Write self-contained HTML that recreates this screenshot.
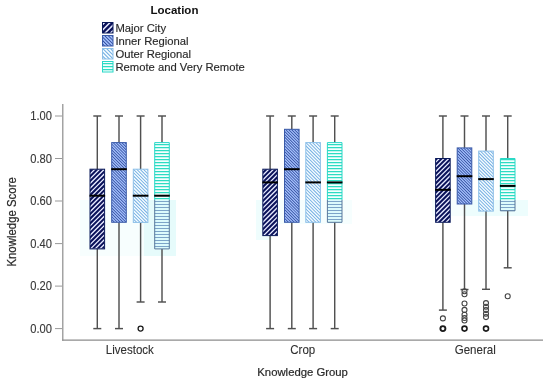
<!DOCTYPE html>
<html><head><meta charset="utf-8"><style>
html,body{margin:0;padding:0;background:#fff;}
svg{display:block;will-change:transform;}
.t{font-family:"Liberation Sans",sans-serif;font-size:11px;fill:#2a2a2a;stroke:#2a2a2a;stroke-width:0.22px;}
.c{font-family:"Liberation Sans",sans-serif;fill:#303030;stroke:#303030;stroke-width:0.1px;}
.k{font-family:"Liberation Sans",sans-serif;fill:#383838;stroke:#383838;stroke-width:0.12px;}
.l{font-family:"Liberation Sans",sans-serif;font-size:11px;fill:#2a2a2a;stroke:#2a2a2a;stroke-width:0.15px;}
.b{font-family:"Liberation Sans",sans-serif;font-size:11.5px;font-weight:bold;fill:#111;}
</style></head><body>
<svg width="550" height="385" viewBox="0 0 550 385">
<defs>
</defs>
<rect width="550" height="385" fill="#fff"/>
<rect x="80" y="200" width="64" height="56" fill="#f7fefe"/>
<rect x="144" y="200" width="32" height="56" fill="#e6fbfb"/>
<rect x="256" y="200" width="96" height="24" fill="#f6fefe"/>
<rect x="256" y="200" width="16" height="40" fill="#effdfd"/>
<rect x="464" y="200" width="64" height="16" fill="#edfdfd"/>
<rect x="432" y="200" width="32" height="16" fill="#f6fefe"/>
<!-- legend -->
<text x="150.5" y="14" class="b">Location</text>
<clipPath id="c16"><rect x="102.50" y="22.50" width="10.50" height="10.50"/></clipPath><g clip-path="url(#c16)"><rect x="102.50" y="22.50" width="10.50" height="10.50" fill="#0b125a"/><path fill="#e6eaff" d="M99.00,21.50L101.17,21.50L88.67,34.00L86.50,34.00ZM104.50,21.50L106.66,21.50L94.16,34.00L92.00,34.00ZM110.00,21.50L112.16,21.50L99.66,34.00L97.50,34.00ZM115.50,21.50L117.66,21.50L105.16,34.00L103.00,34.00ZM121.00,21.50L123.16,21.50L110.66,34.00L108.50,34.00ZM126.50,21.50L128.66,21.50L116.16,34.00L114.00,34.00ZM132.00,21.50L134.16,21.50L121.66,34.00L119.50,34.00Z"/></g><rect x="102.5" y="22.5" width="10.5" height="10.5" fill="none" stroke="#0a1a5a"/>
<clipPath id="c17"><rect x="102.50" y="35.50" width="10.50" height="10.50"/></clipPath><g clip-path="url(#c17)"><rect x="102.50" y="35.50" width="10.50" height="10.50" fill="#203c90"/><path fill="#a2befa" d="M83.22,34.50L85.56,34.50L98.06,47.00L95.72,47.00ZM86.70,34.50L89.04,34.50L101.54,47.00L99.20,47.00ZM90.18,34.50L92.52,34.50L105.02,47.00L102.68,47.00ZM93.66,34.50L96.00,34.50L108.50,47.00L106.16,47.00ZM97.14,34.50L99.48,34.50L111.98,47.00L109.64,47.00ZM100.62,34.50L102.96,34.50L115.46,47.00L113.12,47.00ZM104.10,34.50L106.44,34.50L118.94,47.00L116.60,47.00ZM107.58,34.50L109.92,34.50L122.42,47.00L120.08,47.00ZM111.06,34.50L113.40,34.50L125.90,47.00L123.56,47.00ZM114.54,34.50L116.88,34.50L129.38,47.00L127.04,47.00Z"/></g><rect x="102.5" y="35.5" width="10.5" height="10.5" fill="none" stroke="#3a5aa8"/>
<clipPath id="c18"><rect x="102.50" y="48.50" width="10.50" height="10.50"/></clipPath><g clip-path="url(#c18)"><rect x="102.50" y="48.50" width="10.50" height="10.50" fill="#f6fcff"/><path fill="#72aee2" d="M85.68,47.50L87.17,47.50L99.67,60.00L98.18,60.00ZM89.50,47.50L90.99,47.50L103.49,60.00L102.00,60.00ZM93.32,47.50L94.81,47.50L107.31,60.00L105.82,60.00ZM97.13,47.50L98.63,47.50L111.13,60.00L109.63,60.00ZM100.95,47.50L102.45,47.50L114.95,60.00L113.45,60.00ZM104.77,47.50L106.26,47.50L118.76,60.00L117.27,60.00ZM108.59,47.50L110.08,47.50L122.58,60.00L121.09,60.00ZM112.41,47.50L113.90,47.50L126.40,60.00L124.91,60.00ZM116.22,47.50L117.72,47.50L130.22,60.00L128.72,60.00Z"/></g><rect x="102.5" y="48.5" width="10.5" height="10.5" fill="none" stroke="#8cbfe8"/>
<clipPath id="c19"><rect x="102.50" y="61.50" width="10.50" height="10.50"/></clipPath><g clip-path="url(#c19)"><rect x="102.50" y="61.50" width="10.50" height="10.50" fill="#f4fffe"/><path fill="#2cdcc2" d="M101.50,56.90H114.00V58.15H101.50ZM101.50,59.90H114.00V61.15H101.50ZM101.50,62.90H114.00V64.15H101.50ZM101.50,65.90H114.00V67.15H101.50ZM101.50,68.90H114.00V70.15H101.50ZM101.50,71.90H114.00V73.15H101.50ZM101.50,74.90H114.00V76.15H101.50ZM101.50,77.90H114.00V79.15H101.50Z"/></g><rect x="102.5" y="61.5" width="10.5" height="10.5" fill="none" stroke="#2ad8c8"/>
<text x="115.40" y="31.50" text-anchor="start" class="l" style="font-size:11.25px">Major City</text>
<text x="115.40" y="44.50" text-anchor="start" class="l" style="font-size:11.25px">Inner Regional</text>
<text x="115.40" y="57.50" text-anchor="start" class="l" style="font-size:11.25px">Outer Regional</text>
<text x="115.40" y="70.50" text-anchor="start" class="l" style="font-size:11.25px">Remote and Very Remote</text>
<!-- axes -->
<line x1="62.8" y1="104" x2="62.8" y2="340.7" stroke="#8c8c8c" stroke-width="1.2"/>
<line x1="62.2" y1="340.1" x2="543" y2="340.1" stroke="#8c8c8c" stroke-width="1.2"/>
<line x1="55" y1="328.6" x2="62" y2="328.6" stroke="#999" stroke-width="1"/>
<text x="51.90" y="332.70" text-anchor="end" class="k" style="font-size:12.0px" lengthAdjust="spacingAndGlyphs" textLength="21.72">0.00</text>
<line x1="55" y1="286.1" x2="62" y2="286.1" stroke="#999" stroke-width="1"/>
<text x="51.90" y="290.18" text-anchor="end" class="k" style="font-size:12.0px" lengthAdjust="spacingAndGlyphs" textLength="21.72">0.20</text>
<line x1="55" y1="243.6" x2="62" y2="243.6" stroke="#999" stroke-width="1"/>
<text x="51.90" y="247.66" text-anchor="end" class="k" style="font-size:12.0px" lengthAdjust="spacingAndGlyphs" textLength="21.72">0.40</text>
<line x1="55" y1="201.0" x2="62" y2="201.0" stroke="#999" stroke-width="1"/>
<text x="51.90" y="205.14" text-anchor="end" class="k" style="font-size:12.0px" lengthAdjust="spacingAndGlyphs" textLength="21.72">0.60</text>
<line x1="55" y1="158.5" x2="62" y2="158.5" stroke="#999" stroke-width="1"/>
<text x="51.90" y="162.62" text-anchor="end" class="k" style="font-size:12.0px" lengthAdjust="spacingAndGlyphs" textLength="21.72">0.80</text>
<line x1="55" y1="116.0" x2="62" y2="116.0" stroke="#999" stroke-width="1"/>
<text x="51.90" y="120.10" text-anchor="end" class="k" style="font-size:12.0px" lengthAdjust="spacingAndGlyphs" textLength="21.72">1.00</text>
<text x="129.80" y="354.30" text-anchor="middle" class="c" style="font-size:12.2px" lengthAdjust="spacingAndGlyphs" textLength="48.06">Livestock</text>
<text x="302.80" y="354.30" text-anchor="middle" class="c" style="font-size:12.2px" lengthAdjust="spacingAndGlyphs" textLength="24.99">Crop</text>
<text x="475.20" y="354.30" text-anchor="middle" class="c" style="font-size:12.2px" lengthAdjust="spacingAndGlyphs" textLength="41.01">General</text>
<text x="302.60" y="376.40" text-anchor="middle" class="t" style="font-size:11.6px" lengthAdjust="spacingAndGlyphs" textLength="90.53">Knowledge Group</text>
<g transform="translate(15.7,221.9) rotate(-90)"><text x="0.00" y="0.00" text-anchor="middle" class="t" style="font-size:12.0px" lengthAdjust="spacingAndGlyphs" textLength="89.35">Knowledge Score</text></g>
<line x1="97.3" y1="116.0" x2="97.3" y2="169.2" stroke="#505050" stroke-width="1.45"/>
<line x1="97.3" y1="248.9" x2="97.3" y2="328.6" stroke="#505050" stroke-width="1.45"/>
<line x1="93.3" y1="116.0" x2="101.3" y2="116.0" stroke="#505050" stroke-width="1.45"/>
<line x1="93.3" y1="328.6" x2="101.3" y2="328.6" stroke="#505050" stroke-width="1.45"/>
<clipPath id="c1"><rect x="90.00" y="169.15" width="14.60" height="79.72"/></clipPath><g clip-path="url(#c1)"><rect x="90.00" y="169.15" width="14.60" height="79.72" fill="#0b125a"/><path fill="#e6eaff" d="M85.65,168.15L87.50,168.15L5.78,249.88L3.93,249.88ZM90.35,168.15L92.20,168.15L10.48,249.88L8.62,249.88ZM95.05,168.15L96.90,168.15L15.18,249.88L13.32,249.88ZM99.75,168.15L101.60,168.15L19.88,249.88L18.03,249.88ZM104.45,168.15L106.30,168.15L24.58,249.88L22.73,249.88ZM109.15,168.15L111.00,168.15L29.28,249.88L27.43,249.88ZM113.85,168.15L115.70,168.15L33.98,249.88L32.12,249.88ZM118.55,168.15L120.40,168.15L38.68,249.88L36.82,249.88ZM123.25,168.15L125.10,168.15L43.38,249.88L41.53,249.88ZM127.95,168.15L129.80,168.15L48.08,249.88L46.23,249.88ZM132.65,168.15L134.50,168.15L52.78,249.88L50.93,249.88ZM137.35,168.15L139.20,168.15L57.48,249.88L55.62,249.88ZM142.05,168.15L143.90,168.15L62.18,249.88L60.32,249.88ZM146.75,168.15L148.60,168.15L66.88,249.88L65.03,249.88ZM151.45,168.15L153.30,168.15L71.58,249.88L69.73,249.88ZM156.15,168.15L158.00,168.15L76.28,249.88L74.43,249.88ZM160.85,168.15L162.70,168.15L80.98,249.88L79.12,249.88ZM165.55,168.15L167.40,168.15L85.68,249.88L83.82,249.88ZM170.25,168.15L172.10,168.15L90.38,249.88L88.53,249.88ZM174.95,168.15L176.80,168.15L95.08,249.88L93.23,249.88ZM179.65,168.15L181.50,168.15L99.78,249.88L97.93,249.88ZM184.35,168.15L186.20,168.15L104.48,249.88L102.62,249.88ZM189.05,168.15L190.90,168.15L109.18,249.88L107.32,249.88Z"/></g>
<rect x="90.0" y="169.2" width="14.6" height="79.7" fill="none" stroke="#0a1a5a" stroke-width="1"/>
<line x1="89.5" y1="195.7" x2="105.1" y2="195.7" stroke="#000" stroke-width="2"/>
<line x1="119.0" y1="116.0" x2="119.0" y2="142.6" stroke="#505050" stroke-width="1.45"/>
<line x1="119.0" y1="222.3" x2="119.0" y2="328.6" stroke="#505050" stroke-width="1.45"/>
<line x1="115.0" y1="116.0" x2="123.0" y2="116.0" stroke="#505050" stroke-width="1.45"/>
<line x1="115.0" y1="328.6" x2="123.0" y2="328.6" stroke="#505050" stroke-width="1.45"/>
<clipPath id="c2"><rect x="111.70" y="142.57" width="14.60" height="79.73"/></clipPath><g clip-path="url(#c2)"><rect x="111.70" y="142.57" width="14.60" height="79.73" fill="#203c90"/><path fill="#a2befa" d="M25.57,141.57L27.52,141.57L109.25,223.30L107.30,223.30ZM28.47,141.57L30.42,141.57L112.15,223.30L110.20,223.30ZM31.37,141.57L33.32,141.57L115.05,223.30L113.10,223.30ZM34.27,141.57L36.22,141.57L117.95,223.30L116.00,223.30ZM37.17,141.57L39.12,141.57L120.85,223.30L118.90,223.30ZM40.07,141.57L42.02,141.57L123.75,223.30L121.80,223.30ZM42.97,141.57L44.92,141.57L126.65,223.30L124.70,223.30ZM45.87,141.57L47.82,141.57L129.55,223.30L127.60,223.30ZM48.77,141.57L50.72,141.57L132.45,223.30L130.50,223.30ZM51.67,141.57L53.62,141.57L135.35,223.30L133.40,223.30ZM54.57,141.57L56.52,141.57L138.25,223.30L136.30,223.30ZM57.47,141.57L59.42,141.57L141.15,223.30L139.20,223.30ZM60.37,141.57L62.32,141.57L144.05,223.30L142.10,223.30ZM63.27,141.57L65.22,141.57L146.95,223.30L145.00,223.30ZM66.17,141.57L68.12,141.57L149.85,223.30L147.90,223.30ZM69.07,141.57L71.02,141.57L152.75,223.30L150.80,223.30ZM71.97,141.57L73.92,141.57L155.65,223.30L153.70,223.30ZM74.87,141.57L76.82,141.57L158.55,223.30L156.60,223.30ZM77.77,141.57L79.72,141.57L161.45,223.30L159.50,223.30ZM80.67,141.57L82.62,141.57L164.35,223.30L162.40,223.30ZM83.57,141.57L85.52,141.57L167.25,223.30L165.30,223.30ZM86.47,141.57L88.42,141.57L170.15,223.30L168.20,223.30ZM89.38,141.57L91.32,141.57L173.05,223.30L171.10,223.30ZM92.27,141.57L94.22,141.57L175.95,223.30L174.00,223.30ZM95.17,141.57L97.12,141.57L178.85,223.30L176.90,223.30ZM98.07,141.57L100.02,141.57L181.75,223.30L179.80,223.30ZM100.97,141.57L102.92,141.57L184.65,223.30L182.70,223.30ZM103.88,141.57L105.82,141.57L187.55,223.30L185.60,223.30ZM106.77,141.57L108.72,141.57L190.45,223.30L188.50,223.30ZM109.67,141.57L111.62,141.57L193.35,223.30L191.40,223.30ZM112.57,141.57L114.52,141.57L196.25,223.30L194.30,223.30ZM115.47,141.57L117.42,141.57L199.15,223.30L197.20,223.30ZM118.37,141.57L120.32,141.57L202.05,223.30L200.10,223.30ZM121.27,141.57L123.22,141.57L204.95,223.30L203.00,223.30ZM124.17,141.57L126.12,141.57L207.85,223.30L205.90,223.30ZM127.07,141.57L129.02,141.57L210.75,223.30L208.80,223.30ZM129.97,141.57L131.92,141.57L213.65,223.30L211.70,223.30Z"/></g>
<rect x="111.7" y="142.6" width="14.6" height="79.7" fill="none" stroke="#3a5aa8" stroke-width="1"/>
<line x1="111.2" y1="169.2" x2="126.8" y2="169.2" stroke="#000" stroke-width="2"/>
<line x1="140.6" y1="116.0" x2="140.6" y2="169.2" stroke="#505050" stroke-width="1.45"/>
<line x1="140.6" y1="222.3" x2="140.6" y2="302.0" stroke="#505050" stroke-width="1.45"/>
<line x1="136.6" y1="116.0" x2="144.6" y2="116.0" stroke="#505050" stroke-width="1.45"/>
<line x1="136.6" y1="302.0" x2="144.6" y2="302.0" stroke="#505050" stroke-width="1.45"/>
<clipPath id="c3"><rect x="133.30" y="169.15" width="14.60" height="53.15"/></clipPath><g clip-path="url(#c3)"><rect x="133.30" y="169.15" width="14.60" height="53.15" fill="#f6fcff"/><path fill="#72aee2" d="M75.19,168.15L76.49,168.15L131.64,223.30L130.34,223.30ZM78.51,168.15L79.81,168.15L134.96,223.30L133.66,223.30ZM81.83,168.15L83.13,168.15L138.28,223.30L136.98,223.30ZM85.15,168.15L86.45,168.15L141.60,223.30L140.30,223.30ZM88.47,168.15L89.77,168.15L144.92,223.30L143.62,223.30ZM91.79,168.15L93.09,168.15L148.24,223.30L146.94,223.30ZM95.11,168.15L96.41,168.15L151.56,223.30L150.26,223.30ZM98.43,168.15L99.73,168.15L154.88,223.30L153.58,223.30ZM101.75,168.15L103.05,168.15L158.20,223.30L156.90,223.30ZM105.07,168.15L106.37,168.15L161.52,223.30L160.22,223.30ZM108.39,168.15L109.69,168.15L164.84,223.30L163.54,223.30ZM111.71,168.15L113.01,168.15L168.16,223.30L166.86,223.30ZM115.03,168.15L116.33,168.15L171.48,223.30L170.18,223.30ZM118.35,168.15L119.65,168.15L174.80,223.30L173.50,223.30ZM121.67,168.15L122.97,168.15L178.12,223.30L176.82,223.30ZM124.99,168.15L126.29,168.15L181.44,223.30L180.14,223.30ZM128.31,168.15L129.61,168.15L184.76,223.30L183.46,223.30ZM131.63,168.15L132.93,168.15L188.08,223.30L186.78,223.30ZM134.95,168.15L136.25,168.15L191.40,223.30L190.10,223.30ZM138.27,168.15L139.57,168.15L194.72,223.30L193.42,223.30ZM141.59,168.15L142.89,168.15L198.04,223.30L196.74,223.30ZM144.91,168.15L146.21,168.15L201.36,223.30L200.06,223.30ZM148.23,168.15L149.53,168.15L204.68,223.30L203.38,223.30ZM151.55,168.15L152.85,168.15L208.00,223.30L206.70,223.30Z"/></g>
<rect x="133.3" y="169.2" width="14.6" height="53.2" fill="none" stroke="#8cbfe8" stroke-width="1"/>
<line x1="132.8" y1="195.7" x2="148.4" y2="195.7" stroke="#000" stroke-width="2"/>
<circle cx="140.6" cy="328.6" r="2.5" fill="none" stroke="#1a1a1a" stroke-width="1.3"/>
<line x1="162.0" y1="116.0" x2="162.0" y2="142.6" stroke="#505050" stroke-width="1.45"/>
<line x1="162.0" y1="248.9" x2="162.0" y2="302.0" stroke="#505050" stroke-width="1.45"/>
<line x1="158.0" y1="116.0" x2="166.0" y2="116.0" stroke="#505050" stroke-width="1.45"/>
<line x1="158.0" y1="302.0" x2="166.0" y2="302.0" stroke="#505050" stroke-width="1.45"/>
<clipPath id="c4"><rect x="154.70" y="142.57" width="14.60" height="57.43"/></clipPath><g clip-path="url(#c4)"><rect x="154.70" y="142.57" width="14.60" height="57.43" fill="#f4fffe"/><path fill="#2cdcc2" d="M153.70,137.90H170.30V139.15H153.70ZM153.70,140.90H170.30V142.15H153.70ZM153.70,143.90H170.30V145.15H153.70ZM153.70,146.90H170.30V148.15H153.70ZM153.70,149.90H170.30V151.15H153.70ZM153.70,152.90H170.30V154.15H153.70ZM153.70,155.90H170.30V157.15H153.70ZM153.70,158.90H170.30V160.15H153.70ZM153.70,161.90H170.30V163.15H153.70ZM153.70,164.90H170.30V166.15H153.70ZM153.70,167.90H170.30V169.15H153.70ZM153.70,170.90H170.30V172.15H153.70ZM153.70,173.90H170.30V175.15H153.70ZM153.70,176.90H170.30V178.15H153.70ZM153.70,179.90H170.30V181.15H153.70ZM153.70,182.90H170.30V184.15H153.70ZM153.70,185.90H170.30V187.15H153.70ZM153.70,188.90H170.30V190.15H153.70ZM153.70,191.90H170.30V193.15H153.70ZM153.70,194.90H170.30V196.15H153.70ZM153.70,197.90H170.30V199.15H153.70ZM153.70,200.90H170.30V202.15H153.70ZM153.70,203.90H170.30V205.15H153.70Z"/></g>
<clipPath id="c5"><rect x="154.70" y="200.00" width="14.60" height="48.88"/></clipPath><g clip-path="url(#c5)"><rect x="154.70" y="200.00" width="14.60" height="48.88" fill="#dcfafc"/><path fill="#7ca4c8" d="M153.70,195.00H170.30V196.00H153.70ZM153.70,198.00H170.30V199.00H153.70ZM153.70,201.00H170.30V202.00H153.70ZM153.70,204.00H170.30V205.00H153.70ZM153.70,207.00H170.30V208.00H153.70ZM153.70,210.00H170.30V211.00H153.70ZM153.70,213.00H170.30V214.00H153.70ZM153.70,216.00H170.30V217.00H153.70ZM153.70,219.00H170.30V220.00H153.70ZM153.70,222.00H170.30V223.00H153.70ZM153.70,225.00H170.30V226.00H153.70ZM153.70,228.00H170.30V229.00H153.70ZM153.70,231.00H170.30V232.00H153.70ZM153.70,234.00H170.30V235.00H153.70ZM153.70,237.00H170.30V238.00H153.70ZM153.70,240.00H170.30V241.00H153.70ZM153.70,243.00H170.30V244.00H153.70ZM153.70,246.00H170.30V247.00H153.70ZM153.70,249.00H170.30V250.00H153.70ZM153.70,252.00H170.30V253.00H153.70Z"/></g>
<path d="M154.7,200 V142.6 H169.3 V200" fill="none" stroke="#2ad8c8" stroke-width="1"/>
<path d="M154.7,200 V248.9 H169.3 V200" fill="none" stroke="#58789c" stroke-width="1"/>
<line x1="154.2" y1="195.7" x2="169.8" y2="195.7" stroke="#000" stroke-width="2"/>
<line x1="270.1" y1="116.0" x2="270.1" y2="169.2" stroke="#505050" stroke-width="1.45"/>
<line x1="270.1" y1="235.6" x2="270.1" y2="328.6" stroke="#505050" stroke-width="1.45"/>
<line x1="266.1" y1="116.0" x2="274.1" y2="116.0" stroke="#505050" stroke-width="1.45"/>
<line x1="266.1" y1="328.6" x2="274.1" y2="328.6" stroke="#505050" stroke-width="1.45"/>
<clipPath id="c6"><rect x="262.80" y="169.15" width="14.60" height="66.44"/></clipPath><g clip-path="url(#c6)"><rect x="262.80" y="169.15" width="14.60" height="66.44" fill="#0b125a"/><path fill="#e6eaff" d="M259.55,168.15L261.40,168.15L192.96,236.59L191.11,236.59ZM264.25,168.15L266.10,168.15L197.66,236.59L195.81,236.59ZM268.95,168.15L270.80,168.15L202.36,236.59L200.51,236.59ZM273.65,168.15L275.50,168.15L207.06,236.59L205.21,236.59ZM278.35,168.15L280.20,168.15L211.76,236.59L209.91,236.59ZM283.05,168.15L284.90,168.15L216.46,236.59L214.61,236.59ZM287.75,168.15L289.60,168.15L221.16,236.59L219.31,236.59ZM292.45,168.15L294.30,168.15L225.86,236.59L224.01,236.59ZM297.15,168.15L299.00,168.15L230.56,236.59L228.71,236.59ZM301.85,168.15L303.70,168.15L235.26,236.59L233.41,236.59ZM306.55,168.15L308.40,168.15L239.96,236.59L238.11,236.59ZM311.25,168.15L313.10,168.15L244.66,236.59L242.81,236.59ZM315.95,168.15L317.80,168.15L249.36,236.59L247.51,236.59ZM320.65,168.15L322.50,168.15L254.06,236.59L252.21,236.59ZM325.35,168.15L327.20,168.15L258.76,236.59L256.91,236.59ZM330.05,168.15L331.90,168.15L263.46,236.59L261.61,236.59ZM334.75,168.15L336.60,168.15L268.16,236.59L266.31,236.59ZM339.45,168.15L341.30,168.15L272.86,236.59L271.01,236.59ZM344.15,168.15L346.00,168.15L277.56,236.59L275.71,236.59ZM348.85,168.15L350.70,168.15L282.26,236.59L280.41,236.59Z"/></g>
<rect x="262.8" y="169.2" width="14.6" height="66.4" fill="none" stroke="#0a1a5a" stroke-width="1"/>
<line x1="262.3" y1="182.4" x2="277.9" y2="182.4" stroke="#000" stroke-width="2"/>
<line x1="291.8" y1="116.0" x2="291.8" y2="129.3" stroke="#505050" stroke-width="1.45"/>
<line x1="291.8" y1="222.3" x2="291.8" y2="328.6" stroke="#505050" stroke-width="1.45"/>
<line x1="287.8" y1="116.0" x2="295.8" y2="116.0" stroke="#505050" stroke-width="1.45"/>
<line x1="287.8" y1="328.6" x2="295.8" y2="328.6" stroke="#505050" stroke-width="1.45"/>
<clipPath id="c7"><rect x="284.50" y="129.29" width="14.60" height="93.01"/></clipPath><g clip-path="url(#c7)"><rect x="284.50" y="129.29" width="14.60" height="93.01" fill="#203c90"/><path fill="#a2befa" d="M186.29,128.29L188.24,128.29L283.25,223.30L281.30,223.30ZM189.19,128.29L191.14,128.29L286.15,223.30L284.20,223.30ZM192.09,128.29L194.04,128.29L289.05,223.30L287.10,223.30ZM194.99,128.29L196.94,128.29L291.95,223.30L290.00,223.30ZM197.89,128.29L199.84,128.29L294.85,223.30L292.90,223.30ZM200.79,128.29L202.74,128.29L297.75,223.30L295.80,223.30ZM203.69,128.29L205.64,128.29L300.65,223.30L298.70,223.30ZM206.59,128.29L208.54,128.29L303.55,223.30L301.60,223.30ZM209.49,128.29L211.44,128.29L306.45,223.30L304.50,223.30ZM212.39,128.29L214.34,128.29L309.35,223.30L307.40,223.30ZM215.29,128.29L217.24,128.29L312.25,223.30L310.30,223.30ZM218.19,128.29L220.14,128.29L315.15,223.30L313.20,223.30ZM221.09,128.29L223.04,128.29L318.05,223.30L316.10,223.30ZM223.99,128.29L225.94,128.29L320.95,223.30L319.00,223.30ZM226.89,128.29L228.84,128.29L323.85,223.30L321.90,223.30ZM229.79,128.29L231.74,128.29L326.75,223.30L324.80,223.30ZM232.69,128.29L234.64,128.29L329.65,223.30L327.70,223.30ZM235.59,128.29L237.54,128.29L332.55,223.30L330.60,223.30ZM238.49,128.29L240.44,128.29L335.45,223.30L333.50,223.30ZM241.39,128.29L243.34,128.29L338.35,223.30L336.40,223.30ZM244.29,128.29L246.24,128.29L341.25,223.30L339.30,223.30ZM247.19,128.29L249.14,128.29L344.15,223.30L342.20,223.30ZM250.09,128.29L252.04,128.29L347.05,223.30L345.10,223.30ZM252.99,128.29L254.94,128.29L349.95,223.30L348.00,223.30ZM255.89,128.29L257.84,128.29L352.85,223.30L350.90,223.30ZM258.79,128.29L260.74,128.29L355.75,223.30L353.80,223.30ZM261.69,128.29L263.64,128.29L358.65,223.30L356.70,223.30ZM264.59,128.29L266.54,128.29L361.55,223.30L359.60,223.30ZM267.49,128.29L269.44,128.29L364.45,223.30L362.50,223.30ZM270.39,128.29L272.34,128.29L367.35,223.30L365.40,223.30ZM273.29,128.29L275.24,128.29L370.25,223.30L368.30,223.30ZM276.19,128.29L278.14,128.29L373.15,223.30L371.20,223.30ZM279.09,128.29L281.04,128.29L376.05,223.30L374.10,223.30ZM281.99,128.29L283.94,128.29L378.95,223.30L377.00,223.30ZM284.89,128.29L286.84,128.29L381.85,223.30L379.90,223.30ZM287.79,128.29L289.74,128.29L384.75,223.30L382.80,223.30ZM290.69,128.29L292.64,128.29L387.65,223.30L385.70,223.30ZM293.59,128.29L295.54,128.29L390.55,223.30L388.60,223.30ZM296.49,128.29L298.44,128.29L393.45,223.30L391.50,223.30ZM299.39,128.29L301.34,128.29L396.35,223.30L394.40,223.30ZM302.29,128.29L304.24,128.29L399.25,223.30L397.30,223.30Z"/></g>
<rect x="284.5" y="129.3" width="14.6" height="93.0" fill="none" stroke="#3a5aa8" stroke-width="1"/>
<line x1="284.0" y1="169.2" x2="299.6" y2="169.2" stroke="#000" stroke-width="2"/>
<line x1="313.1" y1="116.0" x2="313.1" y2="142.6" stroke="#505050" stroke-width="1.45"/>
<line x1="313.1" y1="222.3" x2="313.1" y2="328.6" stroke="#505050" stroke-width="1.45"/>
<line x1="309.1" y1="116.0" x2="317.1" y2="116.0" stroke="#505050" stroke-width="1.45"/>
<line x1="309.1" y1="328.6" x2="317.1" y2="328.6" stroke="#505050" stroke-width="1.45"/>
<clipPath id="c8"><rect x="305.80" y="142.57" width="14.60" height="79.73"/></clipPath><g clip-path="url(#c8)"><rect x="305.80" y="142.57" width="14.60" height="79.73" fill="#f6fcff"/><path fill="#72aee2" d="M221.25,141.57L222.55,141.57L304.28,223.30L302.98,223.30ZM224.57,141.57L225.88,141.57L307.60,223.30L306.30,223.30ZM227.89,141.57L229.19,141.57L310.92,223.30L309.62,223.30ZM231.21,141.57L232.51,141.57L314.24,223.30L312.94,223.30ZM234.53,141.57L235.83,141.57L317.56,223.30L316.26,223.30ZM237.85,141.57L239.15,141.57L320.88,223.30L319.58,223.30ZM241.17,141.57L242.47,141.57L324.20,223.30L322.90,223.30ZM244.50,141.57L245.79,141.57L327.52,223.30L326.22,223.30ZM247.81,141.57L249.11,141.57L330.84,223.30L329.54,223.30ZM251.13,141.57L252.43,141.57L334.16,223.30L332.86,223.30ZM254.45,141.57L255.75,141.57L337.48,223.30L336.18,223.30ZM257.77,141.57L259.07,141.57L340.80,223.30L339.50,223.30ZM261.09,141.57L262.39,141.57L344.12,223.30L342.82,223.30ZM264.41,141.57L265.71,141.57L347.44,223.30L346.14,223.30ZM267.74,141.57L269.03,141.57L350.76,223.30L349.46,223.30ZM271.05,141.57L272.36,141.57L354.08,223.30L352.78,223.30ZM274.38,141.57L275.67,141.57L357.40,223.30L356.10,223.30ZM277.69,141.57L279.00,141.57L360.72,223.30L359.42,223.30ZM281.01,141.57L282.31,141.57L364.04,223.30L362.74,223.30ZM284.33,141.57L285.63,141.57L367.36,223.30L366.06,223.30ZM287.65,141.57L288.95,141.57L370.68,223.30L369.38,223.30ZM290.98,141.57L292.27,141.57L374.00,223.30L372.70,223.30ZM294.29,141.57L295.60,141.57L377.32,223.30L376.02,223.30ZM297.62,141.57L298.91,141.57L380.64,223.30L379.34,223.30ZM300.93,141.57L302.24,141.57L383.96,223.30L382.66,223.30ZM304.25,141.57L305.55,141.57L387.28,223.30L385.98,223.30ZM307.57,141.57L308.88,141.57L390.60,223.30L389.30,223.30ZM310.89,141.57L312.19,141.57L393.92,223.30L392.62,223.30ZM314.21,141.57L315.51,141.57L397.24,223.30L395.94,223.30ZM317.53,141.57L318.83,141.57L400.56,223.30L399.26,223.30ZM320.86,141.57L322.15,141.57L403.88,223.30L402.58,223.30ZM324.17,141.57L325.48,141.57L407.20,223.30L405.90,223.30Z"/></g>
<rect x="305.8" y="142.6" width="14.6" height="79.7" fill="none" stroke="#8cbfe8" stroke-width="1"/>
<line x1="305.3" y1="182.4" x2="320.9" y2="182.4" stroke="#000" stroke-width="2"/>
<line x1="334.7" y1="116.0" x2="334.7" y2="142.6" stroke="#505050" stroke-width="1.45"/>
<line x1="334.7" y1="222.3" x2="334.7" y2="328.6" stroke="#505050" stroke-width="1.45"/>
<line x1="330.7" y1="116.0" x2="338.7" y2="116.0" stroke="#505050" stroke-width="1.45"/>
<line x1="330.7" y1="328.6" x2="338.7" y2="328.6" stroke="#505050" stroke-width="1.45"/>
<clipPath id="c9"><rect x="327.40" y="142.57" width="14.60" height="57.43"/></clipPath><g clip-path="url(#c9)"><rect x="327.40" y="142.57" width="14.60" height="57.43" fill="#f4fffe"/><path fill="#2cdcc2" d="M326.40,137.90H343.00V139.15H326.40ZM326.40,140.90H343.00V142.15H326.40ZM326.40,143.90H343.00V145.15H326.40ZM326.40,146.90H343.00V148.15H326.40ZM326.40,149.90H343.00V151.15H326.40ZM326.40,152.90H343.00V154.15H326.40ZM326.40,155.90H343.00V157.15H326.40ZM326.40,158.90H343.00V160.15H326.40ZM326.40,161.90H343.00V163.15H326.40ZM326.40,164.90H343.00V166.15H326.40ZM326.40,167.90H343.00V169.15H326.40ZM326.40,170.90H343.00V172.15H326.40ZM326.40,173.90H343.00V175.15H326.40ZM326.40,176.90H343.00V178.15H326.40ZM326.40,179.90H343.00V181.15H326.40ZM326.40,182.90H343.00V184.15H326.40ZM326.40,185.90H343.00V187.15H326.40ZM326.40,188.90H343.00V190.15H326.40ZM326.40,191.90H343.00V193.15H326.40ZM326.40,194.90H343.00V196.15H326.40ZM326.40,197.90H343.00V199.15H326.40ZM326.40,200.90H343.00V202.15H326.40ZM326.40,203.90H343.00V205.15H326.40Z"/></g>
<clipPath id="c10"><rect x="327.40" y="200.00" width="14.60" height="22.30"/></clipPath><g clip-path="url(#c10)"><rect x="327.40" y="200.00" width="14.60" height="22.30" fill="#dcfafc"/><path fill="#7ca4c8" d="M326.40,195.00H343.00V196.00H326.40ZM326.40,198.00H343.00V199.00H326.40ZM326.40,201.00H343.00V202.00H326.40ZM326.40,204.00H343.00V205.00H326.40ZM326.40,207.00H343.00V208.00H326.40ZM326.40,210.00H343.00V211.00H326.40ZM326.40,213.00H343.00V214.00H326.40ZM326.40,216.00H343.00V217.00H326.40ZM326.40,219.00H343.00V220.00H326.40ZM326.40,222.00H343.00V223.00H326.40ZM326.40,225.00H343.00V226.00H326.40ZM326.40,228.00H343.00V229.00H326.40Z"/></g>
<path d="M327.4,200 V142.6 H342.0 V200" fill="none" stroke="#2ad8c8" stroke-width="1"/>
<path d="M327.4,200 V222.3 H342.0 V200" fill="none" stroke="#58789c" stroke-width="1"/>
<line x1="326.9" y1="182.4" x2="342.5" y2="182.4" stroke="#000" stroke-width="2"/>
<line x1="442.9" y1="116.0" x2="442.9" y2="158.5" stroke="#505050" stroke-width="1.45"/>
<line x1="442.9" y1="222.3" x2="442.9" y2="310.1" stroke="#505050" stroke-width="1.45"/>
<line x1="438.9" y1="116.0" x2="446.9" y2="116.0" stroke="#505050" stroke-width="1.45"/>
<line x1="438.9" y1="310.1" x2="446.9" y2="310.1" stroke="#505050" stroke-width="1.45"/>
<clipPath id="c11"><rect x="435.60" y="158.52" width="14.60" height="63.78"/></clipPath><g clip-path="url(#c11)"><rect x="435.60" y="158.52" width="14.60" height="63.78" fill="#0b125a"/><path fill="#e6eaff" d="M429.98,157.52L431.83,157.52L366.05,223.30L364.20,223.30ZM434.68,157.52L436.53,157.52L370.75,223.30L368.90,223.30ZM439.38,157.52L441.23,157.52L375.45,223.30L373.60,223.30ZM444.08,157.52L445.93,157.52L380.15,223.30L378.30,223.30ZM448.78,157.52L450.63,157.52L384.85,223.30L383.00,223.30ZM453.48,157.52L455.33,157.52L389.55,223.30L387.70,223.30ZM458.18,157.52L460.03,157.52L394.25,223.30L392.40,223.30ZM462.88,157.52L464.73,157.52L398.95,223.30L397.10,223.30ZM467.58,157.52L469.43,157.52L403.65,223.30L401.80,223.30ZM472.28,157.52L474.13,157.52L408.35,223.30L406.50,223.30ZM476.98,157.52L478.83,157.52L413.05,223.30L411.20,223.30ZM481.68,157.52L483.53,157.52L417.75,223.30L415.90,223.30ZM486.38,157.52L488.23,157.52L422.45,223.30L420.60,223.30ZM491.08,157.52L492.93,157.52L427.15,223.30L425.30,223.30ZM495.78,157.52L497.63,157.52L431.85,223.30L430.00,223.30ZM500.48,157.52L502.33,157.52L436.55,223.30L434.70,223.30ZM505.18,157.52L507.03,157.52L441.25,223.30L439.40,223.30ZM509.88,157.52L511.73,157.52L445.95,223.30L444.10,223.30ZM514.58,157.52L516.43,157.52L450.65,223.30L448.80,223.30ZM519.28,157.52L521.13,157.52L455.35,223.30L453.50,223.30Z"/></g>
<rect x="435.6" y="158.5" width="14.6" height="63.8" fill="none" stroke="#0a1a5a" stroke-width="1"/>
<line x1="435.1" y1="189.8" x2="450.7" y2="189.8" stroke="#000" stroke-width="2"/>
<circle cx="442.9" cy="318.4" r="2.5" fill="none" stroke="#444" stroke-width="1.1"/>
<circle cx="442.9" cy="328.6" r="2.5" fill="none" stroke="#1a1a1a" stroke-width="1.9"/>
<line x1="464.5" y1="116.0" x2="464.5" y2="147.9" stroke="#505050" stroke-width="1.45"/>
<line x1="464.5" y1="204.0" x2="464.5" y2="289.5" stroke="#505050" stroke-width="1.45"/>
<line x1="460.5" y1="116.0" x2="468.5" y2="116.0" stroke="#505050" stroke-width="1.45"/>
<line x1="460.5" y1="289.5" x2="468.5" y2="289.5" stroke="#505050" stroke-width="1.45"/>
<clipPath id="c12"><rect x="457.20" y="147.89" width="14.60" height="56.13"/></clipPath><g clip-path="url(#c12)"><rect x="457.20" y="147.89" width="14.60" height="56.13" fill="#203c90"/><path fill="#a2befa" d="M393.39,146.89L395.34,146.89L453.47,205.02L451.52,205.02ZM396.29,146.89L398.24,146.89L456.37,205.02L454.42,205.02ZM399.19,146.89L401.14,146.89L459.27,205.02L457.32,205.02ZM402.09,146.89L404.04,146.89L462.17,205.02L460.22,205.02ZM404.99,146.89L406.94,146.89L465.07,205.02L463.12,205.02ZM407.89,146.89L409.84,146.89L467.97,205.02L466.02,205.02ZM410.79,146.89L412.74,146.89L470.87,205.02L468.92,205.02ZM413.69,146.89L415.64,146.89L473.77,205.02L471.82,205.02ZM416.59,146.89L418.54,146.89L476.67,205.02L474.72,205.02ZM419.49,146.89L421.44,146.89L479.57,205.02L477.62,205.02ZM422.39,146.89L424.34,146.89L482.47,205.02L480.52,205.02ZM425.29,146.89L427.24,146.89L485.37,205.02L483.42,205.02ZM428.19,146.89L430.14,146.89L488.27,205.02L486.32,205.02ZM431.09,146.89L433.04,146.89L491.17,205.02L489.22,205.02ZM433.99,146.89L435.94,146.89L494.07,205.02L492.12,205.02ZM436.89,146.89L438.84,146.89L496.97,205.02L495.02,205.02ZM439.79,146.89L441.74,146.89L499.87,205.02L497.92,205.02ZM442.69,146.89L444.64,146.89L502.77,205.02L500.82,205.02ZM445.59,146.89L447.54,146.89L505.67,205.02L503.72,205.02ZM448.49,146.89L450.44,146.89L508.57,205.02L506.62,205.02ZM451.39,146.89L453.34,146.89L511.47,205.02L509.52,205.02ZM454.29,146.89L456.24,146.89L514.37,205.02L512.42,205.02ZM457.19,146.89L459.14,146.89L517.27,205.02L515.32,205.02ZM460.09,146.89L462.04,146.89L520.17,205.02L518.22,205.02ZM462.99,146.89L464.94,146.89L523.07,205.02L521.12,205.02ZM465.89,146.89L467.84,146.89L525.97,205.02L524.02,205.02ZM468.79,146.89L470.74,146.89L528.87,205.02L526.92,205.02ZM471.69,146.89L473.64,146.89L531.77,205.02L529.82,205.02ZM474.59,146.89L476.54,146.89L534.67,205.02L532.72,205.02Z"/></g>
<rect x="457.2" y="147.9" width="14.6" height="56.1" fill="none" stroke="#3a5aa8" stroke-width="1"/>
<line x1="456.7" y1="176.2" x2="472.3" y2="176.2" stroke="#000" stroke-width="2"/>
<circle cx="464.5" cy="291.2" r="2.5" fill="none" stroke="#444" stroke-width="1.1"/>
<circle cx="464.5" cy="294.2" r="2.5" fill="none" stroke="#444" stroke-width="1.1"/>
<circle cx="464.5" cy="303.5" r="2.5" fill="none" stroke="#444" stroke-width="1.1"/>
<circle cx="464.5" cy="309.9" r="2.5" fill="none" stroke="#444" stroke-width="1.1"/>
<circle cx="464.5" cy="314.8" r="2.5" fill="none" stroke="#444" stroke-width="1.1"/>
<circle cx="464.5" cy="318.0" r="2.5" fill="none" stroke="#444" stroke-width="1.1"/>
<circle cx="464.5" cy="320.5" r="2.5" fill="none" stroke="#444" stroke-width="1.1"/>
<circle cx="464.5" cy="328.6" r="2.5" fill="none" stroke="#1a1a1a" stroke-width="1.6"/>
<line x1="486.0" y1="116.0" x2="486.0" y2="151.1" stroke="#505050" stroke-width="1.45"/>
<line x1="486.0" y1="211.0" x2="486.0" y2="289.3" stroke="#505050" stroke-width="1.45"/>
<line x1="482.0" y1="116.0" x2="490.0" y2="116.0" stroke="#505050" stroke-width="1.45"/>
<line x1="482.0" y1="289.3" x2="490.0" y2="289.3" stroke="#505050" stroke-width="1.45"/>
<clipPath id="c13"><rect x="478.70" y="151.08" width="14.60" height="59.95"/></clipPath><g clip-path="url(#c13)"><rect x="478.70" y="151.08" width="14.60" height="59.95" fill="#f6fcff"/><path fill="#72aee2" d="M412.36,150.08L413.66,150.08L475.61,212.03L474.31,212.03ZM415.68,150.08L416.98,150.08L478.93,212.03L477.63,212.03ZM419.00,150.08L420.30,150.08L482.25,212.03L480.95,212.03ZM422.32,150.08L423.62,150.08L485.57,212.03L484.27,212.03ZM425.64,150.08L426.94,150.08L488.89,212.03L487.59,212.03ZM428.96,150.08L430.26,150.08L492.21,212.03L490.91,212.03ZM432.28,150.08L433.58,150.08L495.53,212.03L494.23,212.03ZM435.60,150.08L436.90,150.08L498.85,212.03L497.55,212.03ZM438.92,150.08L440.22,150.08L502.17,212.03L500.87,212.03ZM442.24,150.08L443.54,150.08L505.49,212.03L504.19,212.03ZM445.56,150.08L446.86,150.08L508.81,212.03L507.51,212.03ZM448.88,150.08L450.18,150.08L512.13,212.03L510.83,212.03ZM452.20,150.08L453.50,150.08L515.45,212.03L514.15,212.03ZM455.52,150.08L456.82,150.08L518.77,212.03L517.47,212.03ZM458.84,150.08L460.14,150.08L522.09,212.03L520.79,212.03ZM462.16,150.08L463.46,150.08L525.41,212.03L524.11,212.03ZM465.48,150.08L466.78,150.08L528.73,212.03L527.43,212.03ZM468.80,150.08L470.10,150.08L532.05,212.03L530.75,212.03ZM472.12,150.08L473.42,150.08L535.37,212.03L534.07,212.03ZM475.44,150.08L476.74,150.08L538.69,212.03L537.39,212.03ZM478.76,150.08L480.06,150.08L542.01,212.03L540.71,212.03ZM482.08,150.08L483.38,150.08L545.33,212.03L544.03,212.03ZM485.40,150.08L486.70,150.08L548.65,212.03L547.35,212.03ZM488.72,150.08L490.02,150.08L551.97,212.03L550.67,212.03ZM492.04,150.08L493.34,150.08L555.29,212.03L553.99,212.03ZM495.36,150.08L496.66,150.08L558.61,212.03L557.31,212.03Z"/></g>
<rect x="478.7" y="151.1" width="14.6" height="60.0" fill="none" stroke="#8cbfe8" stroke-width="1"/>
<line x1="478.2" y1="179.1" x2="493.8" y2="179.1" stroke="#000" stroke-width="2"/>
<circle cx="486.0" cy="303.1" r="2.5" fill="none" stroke="#444" stroke-width="1.1"/>
<circle cx="486.0" cy="306.7" r="2.5" fill="none" stroke="#444" stroke-width="1.1"/>
<circle cx="486.0" cy="310.1" r="2.5" fill="none" stroke="#444" stroke-width="1.1"/>
<circle cx="486.0" cy="313.7" r="2.5" fill="none" stroke="#444" stroke-width="1.1"/>
<circle cx="486.0" cy="317.1" r="2.5" fill="none" stroke="#444" stroke-width="1.1"/>
<circle cx="486.0" cy="328.6" r="2.5" fill="none" stroke="#1a1a1a" stroke-width="1.6"/>
<line x1="507.7" y1="116.0" x2="507.7" y2="158.5" stroke="#505050" stroke-width="1.45"/>
<line x1="507.7" y1="210.8" x2="507.7" y2="267.8" stroke="#505050" stroke-width="1.45"/>
<line x1="503.7" y1="116.0" x2="511.7" y2="116.0" stroke="#505050" stroke-width="1.45"/>
<line x1="503.7" y1="267.8" x2="511.7" y2="267.8" stroke="#505050" stroke-width="1.45"/>
<clipPath id="c14"><rect x="500.40" y="158.52" width="14.60" height="41.48"/></clipPath><g clip-path="url(#c14)"><rect x="500.40" y="158.52" width="14.60" height="41.48" fill="#f4fffe"/><path fill="#2cdcc2" d="M499.40,152.90H516.00V154.15H499.40ZM499.40,155.90H516.00V157.15H499.40ZM499.40,158.90H516.00V160.15H499.40ZM499.40,161.90H516.00V163.15H499.40ZM499.40,164.90H516.00V166.15H499.40ZM499.40,167.90H516.00V169.15H499.40ZM499.40,170.90H516.00V172.15H499.40ZM499.40,173.90H516.00V175.15H499.40ZM499.40,176.90H516.00V178.15H499.40ZM499.40,179.90H516.00V181.15H499.40ZM499.40,182.90H516.00V184.15H499.40ZM499.40,185.90H516.00V187.15H499.40ZM499.40,188.90H516.00V190.15H499.40ZM499.40,191.90H516.00V193.15H499.40ZM499.40,194.90H516.00V196.15H499.40ZM499.40,197.90H516.00V199.15H499.40ZM499.40,200.90H516.00V202.15H499.40ZM499.40,203.90H516.00V205.15H499.40Z"/></g>
<clipPath id="c15"><rect x="500.40" y="200.00" width="14.60" height="10.82"/></clipPath><g clip-path="url(#c15)"><rect x="500.40" y="200.00" width="14.60" height="10.82" fill="#dcfafc"/><path fill="#7ca4c8" d="M499.40,195.00H516.00V196.00H499.40ZM499.40,198.00H516.00V199.00H499.40ZM499.40,201.00H516.00V202.00H499.40ZM499.40,204.00H516.00V205.00H499.40ZM499.40,207.00H516.00V208.00H499.40ZM499.40,210.00H516.00V211.00H499.40ZM499.40,213.00H516.00V214.00H499.40ZM499.40,216.00H516.00V217.00H499.40Z"/></g>
<path d="M500.4,200 V158.5 H515.0 V200" fill="none" stroke="#2ad8c8" stroke-width="1"/>
<path d="M500.4,200 V210.8 H515.0 V200" fill="none" stroke="#58789c" stroke-width="1"/>
<line x1="499.9" y1="185.9" x2="515.5" y2="185.9" stroke="#000" stroke-width="2"/>
<circle cx="507.7" cy="296.3" r="2.5" fill="none" stroke="#444" stroke-width="1.1"/>
</svg>
</body></html>
